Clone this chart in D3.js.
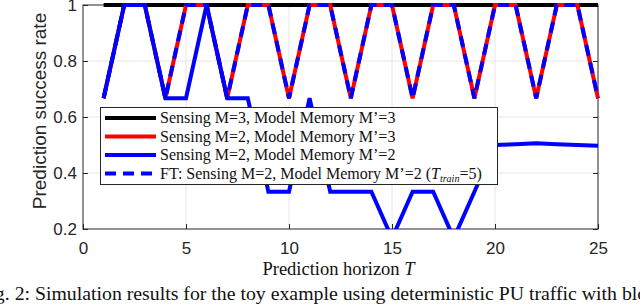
<!DOCTYPE html>
<html>
<head>
<meta charset="utf-8">
<script src="https://cdn.jsdelivr.net/npm/d3@7"></script>
<style>
  body { margin: 0; background: #fff; }
  svg { display: block; }
</style>
</head>
<body>
<script>
// prediction horizon T
const horizon = [1, 2, 3, 4, 5, 6, 7, 8, 9, 10, 11, 12, 13, 14, 15, 16, 17, 18, 19, 20, 21, 22, 23, 24, 25];

// Sensing M=3, Model Memory M'=3
const m3m3 = [1, 1, 1, 1, 1, 1, 1, 1, 1, 1, 1, 1, 1, 1, 1, 1, 1, 1, 1, 1, 1, 1, 1, 1, 1];
// Sensing M=2, Model Memory M'=3
const m2m3 = [0.667, 1, 1, 0.667, 1, 1, 0.667, 1, 1, 0.667, 1, 1, 0.667, 1, 1, 0.667, 1, 1, 0.667, 1, 1, 0.667, 1, 1, 0.667];
// Sensing M=2, Model Memory M'=2
const m2m2 = [0.667, 1, 1, 0.667, 0.667, 1, 0.667, 0.667, 0.333, 0.333, 0.667, 0.333, 0.333, 0.333, 0.167, 0.333, 0.333, 0.167, 0.333, 0.5, 0.503, 0.506, 0.503, 0.5, 0.497];
// FT: Sensing M=2, Model Memory M'=2 (T_train=5)
const ftm2m2 = [0.667, 1, 1, 0.667, 1, 1, 0.667, 1, 1, 0.667, 1, 1, 0.667, 1, 1, 0.667, 1, 1, 0.667, 1, 1, 0.667, 1, 1, 0.667];

const xTicks = [0, 5, 10, 15, 20, 25];
const yTicks = [0.2, 0.4, 0.6, 0.8, 1];

const seriesNames = [
    "Sensing M=3, Model Memory M\u2019=3",
    "Sensing M=2, Model Memory M\u2019=3",
    "Sensing M=2, Model Memory M\u2019=2",
    "FT: Sensing M=2, Model Memory M\u2019=2"
];

const W = 640, H = 306;
var margin = { top: 5, right: 42, bottom: 77, left: 83 };

var svg = d3.select("body").append("svg")
    .attr("width", W)
    .attr("height", H);

var x = d3.scaleLinear().domain([0, 25]).range([margin.left, W - margin.right]);
var y = d3.scaleLinear().domain([0.2, 1]).range([H - margin.bottom, margin.top]);

// grid
svg.append("g").selectAll("line.gx")
    .data(xTicks.slice(1, -1))
    .enter().append("line")
    .attr("x1", d => x(d)).attr("x2", d => x(d))
    .attr("y1", y(0.2)).attr("y2", y(1))
    .attr("stroke", "#e6e6e6").attr("stroke-width", 1);
svg.append("g").selectAll("line.gy")
    .data(yTicks.slice(1, -1))
    .enter().append("line")
    .attr("x1", x(0)).attr("x2", x(25))
    .attr("y1", d => y(d)).attr("y2", d => y(d))
    .attr("stroke", "#e6e6e6").attr("stroke-width", 1);

// axes
const fmt = d3.format("~g");
const axisColor = "#262626";

svg.append("g")
    .attr("transform", "translate(0," + y(0.2) + ")")
    .call(d3.axisBottom(x).tickValues(xTicks).tickFormat(fmt).tickSize(-5).tickSizeOuter(0).tickPadding(13));
svg.append("g")
    .attr("transform", "translate(" + x(0) + ",0)")
    .call(d3.axisLeft(y).tickValues(yTicks).tickFormat(fmt).tickSize(-5).tickSizeOuter(0).tickPadding(6));
// right side ticks (box on)
svg.append("g")
    .attr("transform", "translate(" + x(25) + ",0)")
    .call(d3.axisRight(y).tickValues(yTicks).tickFormat("").tickSize(-5).tickSizeOuter(0));

svg.selectAll(".domain").remove();
svg.selectAll(".tick line").attr("stroke", axisColor);
svg.selectAll(".tick text")
    .attr("fill", axisColor)
    .style("font-family", "'Liberation Sans', Arial, sans-serif")
    .style("font-size", "17px");

// box
svg.append("rect")
    .attr("x", x(0)).attr("y", y(1))
    .attr("width", x(25) - x(0)).attr("height", y(0.2) - y(1))
    .attr("fill", "none").attr("stroke", axisColor).attr("stroke-width", 1);

// axis labels
svg.append("text")
    .attr("transform", "translate(46,111) rotate(-90)")
    .attr("text-anchor", "middle")
    .style("font-family", "'Liberation Sans', Arial, sans-serif")
    .style("font-size", "19px")
    .attr("fill", axisColor)
    .text("Prediction success rate");

var xl = svg.append("text")
    .attr("x", (x(0) + x(25)) / 2 - 2).attr("y", 275)
    .attr("text-anchor", "middle")
    .style("font-family", "'Liberation Serif', 'Times New Roman', serif")
    .style("font-size", "18.5px")
    .attr("fill", "#111");
xl.append("tspan").text("Prediction horizon ");
xl.append("tspan").style("font-style", "italic").text("T");

// data lines
svg.append("clipPath").attr("id", "plotclip")
    .append("rect")
    .attr("x", x(0) - 4).attr("y", 0)
    .attr("width", x(25) - x(0) + 8).attr("height", y(0.2));

var plot = svg.append("g").attr("clip-path", "url(#plotclip)");

const line = d3.line()
    .x((d, i) => x(horizon[i]))
    .y(d => y(d));

const series = [
    { values: m3m3, color: "#000000", dash: null, width: 4 },
    { values: m2m3, color: "#ff0000", dash: null, width: 4 },
    { values: m2m2, color: "#0000ff", dash: null, width: 4 },
    { values: ftm2m2, color: "#0000ff", dash: "11,7", width: 4 }
];

series.forEach(s => {
    plot.append("path")
        .datum(s.values)
        .attr("d", line)
        .attr("fill", "none")
        .attr("stroke", s.color)
        .attr("stroke-width", s.width)
        .attr("stroke-linejoin", "miter")
        .attr("stroke-dasharray", s.dash);
});

// legend
var lg = svg.append("g");
lg.append("rect")
    .attr("x", 100.5).attr("y", 107.5)
    .attr("width", 397).attr("height", 77)
    .attr("fill", "#fff").attr("stroke", axisColor).attr("stroke-width", 1);

series.forEach((s, i) => {
    const cy = 118 + i * 18.5;
    lg.append("line")
        .attr("x1", 105).attr("x2", 156)
        .attr("y1", cy).attr("y2", cy)
        .attr("stroke", s.color)
        .attr("stroke-width", s.width)
        .attr("stroke-dasharray", s.dash);
    var t = lg.append("text")
        .attr("x", 160).attr("y", cy + 5)
        .style("font-family", "'Liberation Serif', 'Times New Roman', serif")
        .style("font-size", "16px")
        .attr("fill", "#111")
        .text(seriesNames[i]);
    if (i === 3) {
        t.append("tspan").text(" (");
        t.append("tspan").style("font-style", "italic").text("T");
        t.append("tspan").style("font-style", "italic").style("font-size", "10px").attr("dy", 3).text("train");
        t.append("tspan").attr("dy", -3).text("=5)");
    }
});

// figure caption (cropped at the edges)
var cap = svg.append("text")
    .attr("y", 300)
    .style("font-family", "'Liberation Serif', 'Times New Roman', serif")
    .style("font-size", "19.8px")
    .attr("fill", "#111")
    .text("Fig. 2: Simulation results for the toy example using deterministic PU traffic with blocks of");
var probe = svg.append("text")
    .style("font-family", "'Liberation Serif', 'Times New Roman', serif")
    .style("font-size", "19.8px")
    .text("Fig. 2:\u00a0");
cap.attr("x", 35 - probe.node().getComputedTextLength());
probe.remove();
</script>
</body>
</html>
